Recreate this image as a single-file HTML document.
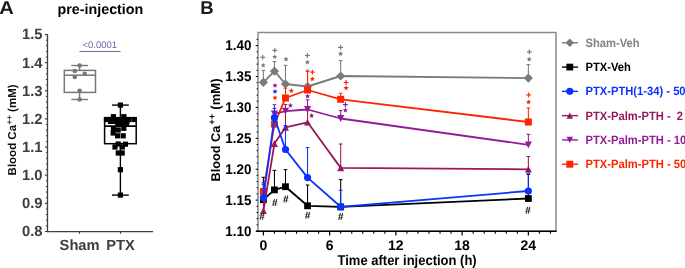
<!DOCTYPE html>
<html><head><meta charset="utf-8"><style>
html,body{margin:0;padding:0;background:#fff;}
body{width:685px;height:268px;overflow:hidden;}
svg{display:block;font-family:'Liberation Sans', sans-serif;will-change:transform;text-rendering:geometricPrecision;}
</style></head><body>
<svg width="685" height="268" viewBox="0 0 685 268">
<text transform="translate(-0.7,14.2) scale(1.09,1)" font-size="18.5" font-weight="bold" fill="#1a1a1a">A</text>
<text x="100.40" y="14.10" font-size="14.3" font-weight="bold" fill="#000" text-anchor="middle" >pre-injection</text>
<line x1="47.50" y1="34.00" x2="47.50" y2="232.20" stroke="#403e4a" stroke-width="1.3"/>
<line x1="44.90" y1="34.50" x2="47.50" y2="34.50" stroke="#403e4a" stroke-width="1.2"/>
<line x1="45.90" y1="40.13" x2="47.50" y2="40.13" stroke="#403e4a" stroke-width="1.0"/>
<line x1="45.90" y1="45.76" x2="47.50" y2="45.76" stroke="#403e4a" stroke-width="1.0"/>
<line x1="45.90" y1="51.38" x2="47.50" y2="51.38" stroke="#403e4a" stroke-width="1.0"/>
<line x1="45.90" y1="57.01" x2="47.50" y2="57.01" stroke="#403e4a" stroke-width="1.0"/>
<line x1="44.90" y1="62.64" x2="47.50" y2="62.64" stroke="#403e4a" stroke-width="1.2"/>
<line x1="45.90" y1="68.27" x2="47.50" y2="68.27" stroke="#403e4a" stroke-width="1.0"/>
<line x1="45.90" y1="73.90" x2="47.50" y2="73.90" stroke="#403e4a" stroke-width="1.0"/>
<line x1="45.90" y1="79.52" x2="47.50" y2="79.52" stroke="#403e4a" stroke-width="1.0"/>
<line x1="45.90" y1="85.15" x2="47.50" y2="85.15" stroke="#403e4a" stroke-width="1.0"/>
<line x1="44.90" y1="90.78" x2="47.50" y2="90.78" stroke="#403e4a" stroke-width="1.2"/>
<line x1="45.90" y1="96.41" x2="47.50" y2="96.41" stroke="#403e4a" stroke-width="1.0"/>
<line x1="45.90" y1="102.04" x2="47.50" y2="102.04" stroke="#403e4a" stroke-width="1.0"/>
<line x1="45.90" y1="107.66" x2="47.50" y2="107.66" stroke="#403e4a" stroke-width="1.0"/>
<line x1="45.90" y1="113.29" x2="47.50" y2="113.29" stroke="#403e4a" stroke-width="1.0"/>
<line x1="44.90" y1="118.92" x2="47.50" y2="118.92" stroke="#403e4a" stroke-width="1.2"/>
<line x1="45.90" y1="124.55" x2="47.50" y2="124.55" stroke="#403e4a" stroke-width="1.0"/>
<line x1="45.90" y1="130.18" x2="47.50" y2="130.18" stroke="#403e4a" stroke-width="1.0"/>
<line x1="45.90" y1="135.80" x2="47.50" y2="135.80" stroke="#403e4a" stroke-width="1.0"/>
<line x1="45.90" y1="141.43" x2="47.50" y2="141.43" stroke="#403e4a" stroke-width="1.0"/>
<line x1="44.90" y1="147.06" x2="47.50" y2="147.06" stroke="#403e4a" stroke-width="1.2"/>
<line x1="45.90" y1="152.69" x2="47.50" y2="152.69" stroke="#403e4a" stroke-width="1.0"/>
<line x1="45.90" y1="158.32" x2="47.50" y2="158.32" stroke="#403e4a" stroke-width="1.0"/>
<line x1="45.90" y1="163.94" x2="47.50" y2="163.94" stroke="#403e4a" stroke-width="1.0"/>
<line x1="45.90" y1="169.57" x2="47.50" y2="169.57" stroke="#403e4a" stroke-width="1.0"/>
<line x1="44.90" y1="175.20" x2="47.50" y2="175.20" stroke="#403e4a" stroke-width="1.2"/>
<line x1="45.90" y1="180.83" x2="47.50" y2="180.83" stroke="#403e4a" stroke-width="1.0"/>
<line x1="45.90" y1="186.46" x2="47.50" y2="186.46" stroke="#403e4a" stroke-width="1.0"/>
<line x1="45.90" y1="192.08" x2="47.50" y2="192.08" stroke="#403e4a" stroke-width="1.0"/>
<line x1="45.90" y1="197.71" x2="47.50" y2="197.71" stroke="#403e4a" stroke-width="1.0"/>
<line x1="44.90" y1="203.34" x2="47.50" y2="203.34" stroke="#403e4a" stroke-width="1.2"/>
<line x1="45.90" y1="208.97" x2="47.50" y2="208.97" stroke="#403e4a" stroke-width="1.0"/>
<line x1="45.90" y1="214.60" x2="47.50" y2="214.60" stroke="#403e4a" stroke-width="1.0"/>
<line x1="45.90" y1="220.22" x2="47.50" y2="220.22" stroke="#403e4a" stroke-width="1.0"/>
<line x1="45.90" y1="225.85" x2="47.50" y2="225.85" stroke="#403e4a" stroke-width="1.0"/>
<line x1="44.90" y1="231.48" x2="47.50" y2="231.48" stroke="#403e4a" stroke-width="1.2"/>
<text x="42.60" y="39.40" font-size="14.8" font-weight="bold" fill="#3c3c3c" text-anchor="end" >1.5</text>
<text x="42.60" y="67.54" font-size="14.8" font-weight="bold" fill="#3c3c3c" text-anchor="end" >1.4</text>
<text x="42.60" y="95.68" font-size="14.8" font-weight="bold" fill="#3c3c3c" text-anchor="end" >1.3</text>
<text x="42.60" y="123.82" font-size="14.8" font-weight="bold" fill="#3c3c3c" text-anchor="end" >1.2</text>
<text x="42.60" y="151.96" font-size="14.8" font-weight="bold" fill="#3c3c3c" text-anchor="end" >1.1</text>
<text x="42.60" y="180.10" font-size="14.8" font-weight="bold" fill="#3c3c3c" text-anchor="end" >1.0</text>
<text x="42.60" y="208.24" font-size="14.8" font-weight="bold" fill="#3c3c3c" text-anchor="end" >0.9</text>
<text x="42.60" y="236.38" font-size="14.8" font-weight="bold" fill="#3c3c3c" text-anchor="end" >0.8</text>
<line x1="47.50" y1="231.60" x2="153.00" y2="231.60" stroke="#403e4a" stroke-width="1.4"/>
<line x1="79.50" y1="231.60" x2="79.50" y2="233.80" stroke="#403e4a" stroke-width="1.2"/>
<line x1="120.50" y1="231.60" x2="120.50" y2="233.80" stroke="#403e4a" stroke-width="1.2"/>
<text x="79.60" y="249.50" font-size="14.7" font-weight="bold" fill="#3c3c3c" text-anchor="middle" >Sham</text>
<text x="120.60" y="249.50" font-size="14.7" font-weight="bold" fill="#3c3c3c" text-anchor="middle" >PTX</text>
<text transform="translate(16.2,129.9) rotate(-90)" font-size="11.5" font-weight="bold" fill="#111" text-anchor="middle">Blood Ca<tspan dx="0.5" dy="-4.2" font-size="8">++</tspan><tspan dy="4.2"> (mM)</tspan></text>
<text x="99.80" y="48.10" font-size="9.5" font-weight="normal" fill="#6b6ba8" text-anchor="middle" >&lt;0.0001</text>
<line x1="79.40" y1="51.50" x2="120.60" y2="51.50" stroke="#6b6ba8" stroke-width="1.1"/>
<line x1="79.60" y1="65.50" x2="79.60" y2="70.40" stroke="#777777" stroke-width="1.4"/>
<line x1="79.60" y1="92.40" x2="79.60" y2="99.50" stroke="#777777" stroke-width="1.4"/>
<line x1="71.30" y1="65.50" x2="88.00" y2="65.50" stroke="#777777" stroke-width="1.4"/>
<line x1="71.30" y1="99.50" x2="88.00" y2="99.50" stroke="#777777" stroke-width="1.4"/>
<rect x="64.3" y="70.4" width="31.2" height="22.0" fill="none" stroke="#777777" stroke-width="1.5"/>
<line x1="64.30" y1="75.20" x2="95.50" y2="75.20" stroke="#777777" stroke-width="1.5"/>
<circle cx="79.60" cy="65.50" r="2.3" fill="#777777"/>
<circle cx="74.80" cy="71.00" r="2.3" fill="#777777"/>
<circle cx="84.70" cy="73.70" r="2.3" fill="#777777"/>
<circle cx="74.80" cy="77.00" r="2.3" fill="#777777"/>
<circle cx="79.60" cy="90.80" r="2.3" fill="#777777"/>
<circle cx="79.60" cy="99.50" r="2.3" fill="#777777"/>
<line x1="120.40" y1="105.10" x2="120.40" y2="117.80" stroke="#000000" stroke-width="1.4"/>
<line x1="120.40" y1="143.70" x2="120.40" y2="195.10" stroke="#000000" stroke-width="1.4"/>
<line x1="112.00" y1="105.10" x2="128.80" y2="105.10" stroke="#000000" stroke-width="1.4"/>
<line x1="112.00" y1="195.10" x2="128.80" y2="195.10" stroke="#000000" stroke-width="1.4"/>
<rect x="104.6" y="117.8" width="31.6" height="25.9" fill="none" stroke="#000000" stroke-width="1.5"/>
<line x1="104.60" y1="126.10" x2="136.20" y2="126.10" stroke="#000000" stroke-width="1.6"/>
<rect x="117.80" y="102.50" width="5.2" height="5.2" fill="#000000"/>
<rect x="110.80" y="114.10" width="5.2" height="5.2" fill="#000000"/>
<rect x="121.30" y="114.10" width="5.2" height="5.2" fill="#000000"/>
<rect x="103.90" y="116.90" width="5.2" height="5.2" fill="#000000"/>
<rect x="108.40" y="116.90" width="5.2" height="5.2" fill="#000000"/>
<rect x="112.90" y="116.90" width="5.2" height="5.2" fill="#000000"/>
<rect x="117.40" y="116.90" width="5.2" height="5.2" fill="#000000"/>
<rect x="121.90" y="116.90" width="5.2" height="5.2" fill="#000000"/>
<rect x="126.40" y="116.90" width="5.2" height="5.2" fill="#000000"/>
<rect x="131.70" y="116.90" width="5.2" height="5.2" fill="#000000"/>
<rect x="107.90" y="118.80" width="5.2" height="5.2" fill="#000000"/>
<rect x="112.90" y="118.80" width="5.2" height="5.2" fill="#000000"/>
<rect x="117.40" y="118.80" width="5.2" height="5.2" fill="#000000"/>
<rect x="121.90" y="118.80" width="5.2" height="5.2" fill="#000000"/>
<rect x="124.40" y="118.80" width="5.2" height="5.2" fill="#000000"/>
<rect x="115.20" y="121.00" width="5.2" height="5.2" fill="#000000"/>
<rect x="119.70" y="121.00" width="5.2" height="5.2" fill="#000000"/>
<rect x="123.90" y="121.00" width="5.2" height="5.2" fill="#000000"/>
<rect x="110.90" y="126.00" width="5.2" height="5.2" fill="#000000"/>
<rect x="115.60" y="127.40" width="5.2" height="5.2" fill="#000000"/>
<rect x="121.20" y="125.70" width="5.2" height="5.2" fill="#000000"/>
<rect x="110.60" y="130.40" width="5.2" height="5.2" fill="#000000"/>
<rect x="115.00" y="133.20" width="5.2" height="5.2" fill="#000000"/>
<rect x="120.60" y="133.20" width="5.2" height="5.2" fill="#000000"/>
<rect x="115.60" y="141.40" width="5.2" height="5.2" fill="#000000"/>
<rect x="122.80" y="141.60" width="5.2" height="5.2" fill="#000000"/>
<rect x="112.40" y="144.40" width="5.2" height="5.2" fill="#000000"/>
<rect x="119.70" y="144.40" width="5.2" height="5.2" fill="#000000"/>
<rect x="115.70" y="150.40" width="5.2" height="5.2" fill="#000000"/>
<rect x="119.60" y="150.40" width="5.2" height="5.2" fill="#000000"/>
<rect x="117.80" y="167.10" width="5.2" height="5.2" fill="#000000"/>
<rect x="117.80" y="192.50" width="5.2" height="5.2" fill="#000000"/>
<text x="200.20" y="14.30" font-size="18.5" font-weight="bold" fill="#1a1a1a" text-anchor="start" >B</text>
<rect x="258.0" y="32.5" width="298.0" height="198.8" fill="none" stroke="#8a8a8a" stroke-width="1.5"/>
<line x1="256.20" y1="231.30" x2="556.50" y2="231.30" stroke="#000000" stroke-width="1.5"/>
<line x1="255.70" y1="231.00" x2="258.00" y2="231.00" stroke="#000000" stroke-width="1.05"/>
<line x1="256.60" y1="224.82" x2="258.00" y2="224.82" stroke="#000000" stroke-width="1.0"/>
<line x1="256.60" y1="218.64" x2="258.00" y2="218.64" stroke="#000000" stroke-width="1.0"/>
<line x1="256.60" y1="212.46" x2="258.00" y2="212.46" stroke="#000000" stroke-width="1.0"/>
<line x1="256.60" y1="206.28" x2="258.00" y2="206.28" stroke="#000000" stroke-width="1.0"/>
<line x1="255.70" y1="200.10" x2="258.00" y2="200.10" stroke="#000000" stroke-width="1.05"/>
<line x1="256.60" y1="193.92" x2="258.00" y2="193.92" stroke="#000000" stroke-width="1.0"/>
<line x1="256.60" y1="187.74" x2="258.00" y2="187.74" stroke="#000000" stroke-width="1.0"/>
<line x1="256.60" y1="181.56" x2="258.00" y2="181.56" stroke="#000000" stroke-width="1.0"/>
<line x1="256.60" y1="175.38" x2="258.00" y2="175.38" stroke="#000000" stroke-width="1.0"/>
<line x1="255.70" y1="169.20" x2="258.00" y2="169.20" stroke="#000000" stroke-width="1.05"/>
<line x1="256.60" y1="163.02" x2="258.00" y2="163.02" stroke="#000000" stroke-width="1.0"/>
<line x1="256.60" y1="156.84" x2="258.00" y2="156.84" stroke="#000000" stroke-width="1.0"/>
<line x1="256.60" y1="150.66" x2="258.00" y2="150.66" stroke="#000000" stroke-width="1.0"/>
<line x1="256.60" y1="144.48" x2="258.00" y2="144.48" stroke="#000000" stroke-width="1.0"/>
<line x1="255.70" y1="138.30" x2="258.00" y2="138.30" stroke="#000000" stroke-width="1.05"/>
<line x1="256.60" y1="132.12" x2="258.00" y2="132.12" stroke="#000000" stroke-width="1.0"/>
<line x1="256.60" y1="125.94" x2="258.00" y2="125.94" stroke="#000000" stroke-width="1.0"/>
<line x1="256.60" y1="119.76" x2="258.00" y2="119.76" stroke="#000000" stroke-width="1.0"/>
<line x1="256.60" y1="113.58" x2="258.00" y2="113.58" stroke="#000000" stroke-width="1.0"/>
<line x1="255.70" y1="107.40" x2="258.00" y2="107.40" stroke="#000000" stroke-width="1.05"/>
<line x1="256.60" y1="101.22" x2="258.00" y2="101.22" stroke="#000000" stroke-width="1.0"/>
<line x1="256.60" y1="95.04" x2="258.00" y2="95.04" stroke="#000000" stroke-width="1.0"/>
<line x1="256.60" y1="88.86" x2="258.00" y2="88.86" stroke="#000000" stroke-width="1.0"/>
<line x1="256.60" y1="82.68" x2="258.00" y2="82.68" stroke="#000000" stroke-width="1.0"/>
<line x1="255.70" y1="76.50" x2="258.00" y2="76.50" stroke="#000000" stroke-width="1.05"/>
<line x1="256.60" y1="70.32" x2="258.00" y2="70.32" stroke="#000000" stroke-width="1.0"/>
<line x1="256.60" y1="64.14" x2="258.00" y2="64.14" stroke="#000000" stroke-width="1.0"/>
<line x1="256.60" y1="57.96" x2="258.00" y2="57.96" stroke="#000000" stroke-width="1.0"/>
<line x1="256.60" y1="51.78" x2="258.00" y2="51.78" stroke="#000000" stroke-width="1.0"/>
<line x1="255.70" y1="45.60" x2="258.00" y2="45.60" stroke="#000000" stroke-width="1.05"/>
<line x1="256.60" y1="39.42" x2="258.00" y2="39.42" stroke="#000000" stroke-width="1.0"/>
<text transform="translate(251.4,235.75) scale(1,1.05)" font-size="13.4" font-weight="bold" fill="#000" text-anchor="end">1.10</text>
<text transform="translate(251.4,204.85) scale(1,1.05)" font-size="13.4" font-weight="bold" fill="#000" text-anchor="end">1.15</text>
<text transform="translate(251.4,173.95) scale(1,1.05)" font-size="13.4" font-weight="bold" fill="#000" text-anchor="end">1.20</text>
<text transform="translate(251.4,143.05) scale(1,1.05)" font-size="13.4" font-weight="bold" fill="#000" text-anchor="end">1.25</text>
<text transform="translate(251.4,112.15) scale(1,1.05)" font-size="13.4" font-weight="bold" fill="#000" text-anchor="end">1.30</text>
<text transform="translate(251.4,81.25) scale(1,1.05)" font-size="13.4" font-weight="bold" fill="#000" text-anchor="end">1.35</text>
<text transform="translate(251.4,50.35) scale(1,1.05)" font-size="13.4" font-weight="bold" fill="#000" text-anchor="end">1.40</text>
<line x1="263.40" y1="231.30" x2="263.40" y2="235.60" stroke="#000000" stroke-width="1.2"/>
<line x1="274.44" y1="231.30" x2="274.44" y2="233.80" stroke="#000000" stroke-width="1.1"/>
<line x1="285.48" y1="231.30" x2="285.48" y2="233.80" stroke="#000000" stroke-width="1.1"/>
<line x1="296.52" y1="231.30" x2="296.52" y2="233.80" stroke="#000000" stroke-width="1.1"/>
<line x1="307.56" y1="231.30" x2="307.56" y2="233.80" stroke="#000000" stroke-width="1.1"/>
<line x1="318.60" y1="231.30" x2="318.60" y2="233.80" stroke="#000000" stroke-width="1.1"/>
<line x1="329.64" y1="231.30" x2="329.64" y2="235.60" stroke="#000000" stroke-width="1.2"/>
<line x1="340.68" y1="231.30" x2="340.68" y2="233.80" stroke="#000000" stroke-width="1.1"/>
<line x1="351.72" y1="231.30" x2="351.72" y2="233.80" stroke="#000000" stroke-width="1.1"/>
<line x1="362.76" y1="231.30" x2="362.76" y2="233.80" stroke="#000000" stroke-width="1.1"/>
<line x1="373.80" y1="231.30" x2="373.80" y2="233.80" stroke="#000000" stroke-width="1.1"/>
<line x1="384.84" y1="231.30" x2="384.84" y2="233.80" stroke="#000000" stroke-width="1.1"/>
<line x1="395.88" y1="231.30" x2="395.88" y2="235.60" stroke="#000000" stroke-width="1.2"/>
<line x1="406.92" y1="231.30" x2="406.92" y2="233.80" stroke="#000000" stroke-width="1.1"/>
<line x1="417.96" y1="231.30" x2="417.96" y2="233.80" stroke="#000000" stroke-width="1.1"/>
<line x1="429.00" y1="231.30" x2="429.00" y2="233.80" stroke="#000000" stroke-width="1.1"/>
<line x1="440.04" y1="231.30" x2="440.04" y2="233.80" stroke="#000000" stroke-width="1.1"/>
<line x1="451.08" y1="231.30" x2="451.08" y2="233.80" stroke="#000000" stroke-width="1.1"/>
<line x1="462.12" y1="231.30" x2="462.12" y2="235.60" stroke="#000000" stroke-width="1.2"/>
<line x1="473.16" y1="231.30" x2="473.16" y2="233.80" stroke="#000000" stroke-width="1.1"/>
<line x1="484.20" y1="231.30" x2="484.20" y2="233.80" stroke="#000000" stroke-width="1.1"/>
<line x1="495.24" y1="231.30" x2="495.24" y2="233.80" stroke="#000000" stroke-width="1.1"/>
<line x1="506.28" y1="231.30" x2="506.28" y2="233.80" stroke="#000000" stroke-width="1.1"/>
<line x1="517.32" y1="231.30" x2="517.32" y2="233.80" stroke="#000000" stroke-width="1.1"/>
<line x1="528.36" y1="231.30" x2="528.36" y2="235.60" stroke="#000000" stroke-width="1.2"/>
<line x1="539.40" y1="231.30" x2="539.40" y2="233.80" stroke="#000000" stroke-width="1.1"/>
<line x1="550.44" y1="231.30" x2="550.44" y2="233.80" stroke="#000000" stroke-width="1.1"/>
<text x="263.40" y="249.80" font-size="14" font-weight="bold" fill="#000000" text-anchor="middle" >0</text>
<text x="329.64" y="249.80" font-size="14" font-weight="bold" fill="#000000" text-anchor="middle" >6</text>
<text x="395.88" y="249.80" font-size="14" font-weight="bold" fill="#000000" text-anchor="middle" >12</text>
<text x="462.12" y="249.80" font-size="14" font-weight="bold" fill="#000000" text-anchor="middle" >18</text>
<text x="528.36" y="249.80" font-size="14" font-weight="bold" fill="#000000" text-anchor="middle" >24</text>
<text transform="translate(407.1,264.8) scale(1,1.09)" font-size="13" font-weight="bold" fill="#000" text-anchor="middle">Time after injection (h)</text>
<text transform="translate(219.6,181.5) rotate(-90)" font-size="12.7" font-weight="bold" fill="#000" text-anchor="start">Blood Ca<tspan dx="1.2" dy="-4.4" font-size="9.2">++</tspan><tspan dy="4.4" dx="0.6" font-size="13.1"> (mM)</tspan></text>
<line x1="263.40" y1="82.30" x2="263.40" y2="70.40" stroke="#7a7a7a" stroke-width="1.05"/>
<line x1="261.55" y1="70.40" x2="265.25" y2="70.40" stroke="#7a7a7a" stroke-width="1.05"/>
<line x1="274.44" y1="71.20" x2="274.44" y2="61.50" stroke="#7a7a7a" stroke-width="1.05"/>
<line x1="272.59" y1="61.50" x2="276.29" y2="61.50" stroke="#7a7a7a" stroke-width="1.05"/>
<line x1="285.48" y1="84.00" x2="285.48" y2="65.40" stroke="#7a7a7a" stroke-width="1.05"/>
<line x1="283.63" y1="65.40" x2="287.33" y2="65.40" stroke="#7a7a7a" stroke-width="1.05"/>
<line x1="307.56" y1="86.50" x2="307.56" y2="70.20" stroke="#7a7a7a" stroke-width="1.05"/>
<line x1="305.71" y1="70.20" x2="309.41" y2="70.20" stroke="#7a7a7a" stroke-width="1.05"/>
<line x1="340.68" y1="76.00" x2="340.68" y2="60.60" stroke="#7a7a7a" stroke-width="1.05"/>
<line x1="338.83" y1="60.60" x2="342.53" y2="60.60" stroke="#7a7a7a" stroke-width="1.05"/>
<line x1="528.36" y1="78.10" x2="528.36" y2="64.60" stroke="#7a7a7a" stroke-width="1.05"/>
<line x1="526.51" y1="64.60" x2="530.21" y2="64.60" stroke="#7a7a7a" stroke-width="1.05"/>
<polyline points="263.40,82.30 274.44,71.20 285.48,84.00 307.56,86.50 340.68,76.00 528.36,78.10" fill="none" stroke="#7a7a7a" stroke-width="1.9" stroke-linejoin="round"/>
<polygon points="263.40,77.70 268.00,82.30 263.40,86.90 258.80,82.30" fill="#7a7a7a"/>
<polygon points="274.44,66.60 279.04,71.20 274.44,75.80 269.84,71.20" fill="#7a7a7a"/>
<polygon points="285.48,79.40 290.08,84.00 285.48,88.60 280.88,84.00" fill="#7a7a7a"/>
<polygon points="307.56,81.90 312.16,86.50 307.56,91.10 302.96,86.50" fill="#7a7a7a"/>
<polygon points="340.68,71.40 345.28,76.00 340.68,80.60 336.08,76.00" fill="#7a7a7a"/>
<polygon points="528.36,73.50 532.96,78.10 528.36,82.70 523.76,78.10" fill="#7a7a7a"/>
<line x1="263.40" y1="199.70" x2="263.40" y2="177.30" stroke="#000000" stroke-width="1.05"/>
<line x1="261.55" y1="177.30" x2="265.25" y2="177.30" stroke="#000000" stroke-width="1.05"/>
<line x1="274.44" y1="189.90" x2="274.44" y2="170.40" stroke="#000000" stroke-width="1.05"/>
<line x1="272.59" y1="170.40" x2="276.29" y2="170.40" stroke="#000000" stroke-width="1.05"/>
<line x1="285.48" y1="186.70" x2="285.48" y2="169.60" stroke="#000000" stroke-width="1.05"/>
<line x1="283.63" y1="169.60" x2="287.33" y2="169.60" stroke="#000000" stroke-width="1.05"/>
<line x1="307.56" y1="205.80" x2="307.56" y2="185.00" stroke="#000000" stroke-width="1.05"/>
<line x1="305.71" y1="185.00" x2="309.41" y2="185.00" stroke="#000000" stroke-width="1.05"/>
<line x1="340.68" y1="206.90" x2="340.68" y2="179.60" stroke="#000000" stroke-width="1.05"/>
<line x1="338.83" y1="179.60" x2="342.53" y2="179.60" stroke="#000000" stroke-width="1.05"/>
<line x1="528.36" y1="198.50" x2="528.36" y2="174.40" stroke="#000000" stroke-width="1.05"/>
<line x1="526.51" y1="174.40" x2="530.21" y2="174.40" stroke="#000000" stroke-width="1.05"/>
<polyline points="263.40,199.70 274.44,189.90 285.48,186.70 307.56,205.80 340.68,206.90 528.36,198.50" fill="none" stroke="#000000" stroke-width="1.8" stroke-linejoin="round"/>
<rect x="260.00" y="196.30" width="6.8" height="6.8" fill="#000000"/>
<rect x="271.04" y="186.50" width="6.8" height="6.8" fill="#000000"/>
<rect x="282.08" y="183.30" width="6.8" height="6.8" fill="#000000"/>
<rect x="304.16" y="202.40" width="6.8" height="6.8" fill="#000000"/>
<rect x="337.28" y="203.50" width="6.8" height="6.8" fill="#000000"/>
<rect x="524.96" y="195.10" width="6.8" height="6.8" fill="#000000"/>
<line x1="285.48" y1="98.00" x2="285.48" y2="88.20" stroke="#ff2400" stroke-width="1.05"/>
<line x1="283.63" y1="88.20" x2="287.33" y2="88.20" stroke="#ff2400" stroke-width="1.05"/>
<line x1="307.56" y1="90.00" x2="307.56" y2="71.40" stroke="#ff2400" stroke-width="1.05"/>
<line x1="305.71" y1="71.40" x2="309.41" y2="71.40" stroke="#ff2400" stroke-width="1.05"/>
<line x1="340.68" y1="99.30" x2="340.68" y2="93.30" stroke="#ff2400" stroke-width="1.05"/>
<line x1="338.83" y1="93.30" x2="342.53" y2="93.30" stroke="#ff2400" stroke-width="1.05"/>
<line x1="528.36" y1="122.00" x2="528.36" y2="108.00" stroke="#ff2400" stroke-width="1.05"/>
<line x1="526.51" y1="108.00" x2="530.21" y2="108.00" stroke="#ff2400" stroke-width="1.05"/>
<polyline points="263.40,191.40 274.44,124.20 285.48,98.00 307.56,90.00 340.68,99.30 528.36,122.00" fill="none" stroke="#ff2400" stroke-width="1.8" stroke-linejoin="round"/>
<rect x="259.90" y="187.90" width="7.0" height="7.0" fill="#ff2400"/>
<rect x="270.94" y="120.70" width="7.0" height="7.0" fill="#ff2400"/>
<rect x="281.98" y="94.50" width="7.0" height="7.0" fill="#ff2400"/>
<rect x="304.06" y="86.50" width="7.0" height="7.0" fill="#ff2400"/>
<rect x="337.18" y="95.80" width="7.0" height="7.0" fill="#ff2400"/>
<rect x="524.86" y="118.50" width="7.0" height="7.0" fill="#ff2400"/>
<line x1="274.44" y1="113.90" x2="274.44" y2="104.70" stroke="#931b9a" stroke-width="1.05"/>
<line x1="272.59" y1="104.70" x2="276.29" y2="104.70" stroke="#931b9a" stroke-width="1.05"/>
<line x1="307.56" y1="109.50" x2="307.56" y2="99.80" stroke="#931b9a" stroke-width="1.05"/>
<line x1="305.71" y1="99.80" x2="309.41" y2="99.80" stroke="#931b9a" stroke-width="1.05"/>
<line x1="340.68" y1="118.50" x2="340.68" y2="110.60" stroke="#931b9a" stroke-width="1.05"/>
<line x1="338.83" y1="110.60" x2="342.53" y2="110.60" stroke="#931b9a" stroke-width="1.05"/>
<line x1="528.36" y1="144.80" x2="528.36" y2="134.30" stroke="#931b9a" stroke-width="1.05"/>
<line x1="526.51" y1="134.30" x2="530.21" y2="134.30" stroke="#931b9a" stroke-width="1.05"/>
<polyline points="274.44,113.90 285.48,111.20 307.56,109.50 340.68,118.50 528.36,144.80" fill="none" stroke="#931b9a" stroke-width="1.8" stroke-linejoin="round"/>
<polygon points="270.84,110.50 278.04,110.50 274.44,117.30" fill="#931b9a"/>
<polygon points="281.88,107.80 289.08,107.80 285.48,114.60" fill="#931b9a"/>
<polygon points="303.96,106.10 311.16,106.10 307.56,112.90" fill="#931b9a"/>
<polygon points="337.08,115.10 344.28,115.10 340.68,121.90" fill="#931b9a"/>
<polygon points="524.76,141.40 531.96,141.40 528.36,148.20" fill="#931b9a"/>
<line x1="263.40" y1="210.80" x2="263.40" y2="182.70" stroke="#98185a" stroke-width="1.05"/>
<line x1="261.55" y1="182.70" x2="265.25" y2="182.70" stroke="#98185a" stroke-width="1.05"/>
<line x1="285.48" y1="127.40" x2="285.48" y2="104.60" stroke="#98185a" stroke-width="1.05"/>
<line x1="283.63" y1="104.60" x2="287.33" y2="104.60" stroke="#98185a" stroke-width="1.05"/>
<line x1="307.56" y1="122.30" x2="307.56" y2="109.50" stroke="#98185a" stroke-width="1.05"/>
<line x1="305.71" y1="109.50" x2="309.41" y2="109.50" stroke="#98185a" stroke-width="1.05"/>
<line x1="340.68" y1="167.90" x2="340.68" y2="144.00" stroke="#98185a" stroke-width="1.05"/>
<line x1="338.83" y1="144.00" x2="342.53" y2="144.00" stroke="#98185a" stroke-width="1.05"/>
<line x1="528.36" y1="169.30" x2="528.36" y2="156.50" stroke="#98185a" stroke-width="1.05"/>
<line x1="526.51" y1="156.50" x2="530.21" y2="156.50" stroke="#98185a" stroke-width="1.05"/>
<polyline points="263.40,210.80 274.44,143.60 285.48,127.40 307.56,122.30 340.68,167.90 528.36,169.30" fill="none" stroke="#98185a" stroke-width="1.8" stroke-linejoin="round"/>
<polygon points="263.40,207.50 266.90,214.10 259.90,214.10" fill="#98185a"/>
<polygon points="274.44,140.30 277.94,146.90 270.94,146.90" fill="#98185a"/>
<polygon points="285.48,124.10 288.98,130.70 281.98,130.70" fill="#98185a"/>
<polygon points="307.56,119.00 311.06,125.60 304.06,125.60" fill="#98185a"/>
<polygon points="340.68,164.60 344.18,171.20 337.18,171.20" fill="#98185a"/>
<polygon points="528.36,166.00 531.86,172.60 524.86,172.60" fill="#98185a"/>
<line x1="263.40" y1="197.60" x2="263.40" y2="184.30" stroke="#0b31ff" stroke-width="1.05"/>
<line x1="261.55" y1="184.30" x2="265.25" y2="184.30" stroke="#0b31ff" stroke-width="1.05"/>
<line x1="274.44" y1="117.70" x2="274.44" y2="108.40" stroke="#0b31ff" stroke-width="1.05"/>
<line x1="272.59" y1="108.40" x2="276.29" y2="108.40" stroke="#0b31ff" stroke-width="1.05"/>
<line x1="285.48" y1="149.50" x2="285.48" y2="125.60" stroke="#0b31ff" stroke-width="1.05"/>
<line x1="283.63" y1="125.60" x2="287.33" y2="125.60" stroke="#0b31ff" stroke-width="1.05"/>
<line x1="307.56" y1="177.60" x2="307.56" y2="147.60" stroke="#0b31ff" stroke-width="1.05"/>
<line x1="305.71" y1="147.60" x2="309.41" y2="147.60" stroke="#0b31ff" stroke-width="1.05"/>
<line x1="340.68" y1="206.80" x2="340.68" y2="190.20" stroke="#0b31ff" stroke-width="1.05"/>
<line x1="338.83" y1="190.20" x2="342.53" y2="190.20" stroke="#0b31ff" stroke-width="1.05"/>
<line x1="528.36" y1="191.00" x2="528.36" y2="173.10" stroke="#0b31ff" stroke-width="1.05"/>
<line x1="526.51" y1="173.10" x2="530.21" y2="173.10" stroke="#0b31ff" stroke-width="1.05"/>
<polyline points="263.40,197.60 274.44,117.70 285.48,149.50 307.56,177.60 340.68,206.80 528.36,191.00" fill="none" stroke="#0b31ff" stroke-width="1.8" stroke-linejoin="round"/>
<circle cx="263.40" cy="197.60" r="3.6" fill="#0b31ff"/>
<circle cx="274.44" cy="117.70" r="3.6" fill="#0b31ff"/>
<circle cx="285.48" cy="149.50" r="3.6" fill="#0b31ff"/>
<circle cx="307.56" cy="177.60" r="3.6" fill="#0b31ff"/>
<circle cx="340.68" cy="206.80" r="3.6" fill="#0b31ff"/>
<circle cx="528.36" cy="191.00" r="3.6" fill="#0b31ff"/>
<line x1="260.25" y1="57.30" x2="265.15" y2="57.30" stroke="#777" stroke-width="1.15"/>
<line x1="262.70" y1="54.85" x2="262.70" y2="59.75" stroke="#777" stroke-width="1.15"/>
<polygon points="263.20,62.70 263.91,64.42 265.77,64.57 264.36,65.78 264.79,67.58 263.20,66.62 261.61,67.58 262.04,65.78 260.63,64.57 262.49,64.42" fill="#777"/>
<line x1="272.35" y1="50.40" x2="277.25" y2="50.40" stroke="#777" stroke-width="1.15"/>
<line x1="274.80" y1="47.95" x2="274.80" y2="52.85" stroke="#777" stroke-width="1.15"/>
<polygon points="274.80,54.20 275.51,55.92 277.37,56.07 275.96,57.28 276.39,59.08 274.80,58.12 273.21,59.08 273.64,57.28 272.23,56.07 274.09,55.92" fill="#777"/>
<polygon points="286.00,56.50 286.71,58.22 288.57,58.37 287.16,59.58 287.59,61.38 286.00,60.42 284.41,61.38 284.84,59.58 283.43,58.37 285.29,58.22" fill="#777"/>
<line x1="304.95" y1="55.50" x2="309.85" y2="55.50" stroke="#777" stroke-width="1.15"/>
<line x1="307.40" y1="53.05" x2="307.40" y2="57.95" stroke="#777" stroke-width="1.15"/>
<polygon points="307.40,59.50 308.11,61.22 309.97,61.37 308.56,62.58 308.99,64.38 307.40,63.42 305.81,64.38 306.24,62.58 304.83,61.37 306.69,61.22" fill="#777"/>
<line x1="338.15" y1="47.40" x2="343.05" y2="47.40" stroke="#777" stroke-width="1.15"/>
<line x1="340.60" y1="44.95" x2="340.60" y2="49.85" stroke="#777" stroke-width="1.15"/>
<polygon points="340.60,51.10 341.31,52.82 343.17,52.97 341.76,54.18 342.19,55.98 340.60,55.02 339.01,55.98 339.44,54.18 338.03,52.97 339.89,52.82" fill="#777"/>
<line x1="526.95" y1="51.90" x2="531.85" y2="51.90" stroke="#777" stroke-width="1.15"/>
<line x1="529.40" y1="49.45" x2="529.40" y2="54.35" stroke="#777" stroke-width="1.15"/>
<polygon points="529.20,56.60 529.91,58.32 531.77,58.47 530.36,59.68 530.79,61.48 529.20,60.52 527.61,61.48 528.04,59.68 526.63,58.47 528.49,58.32" fill="#777"/>
<polygon points="275.00,82.90 275.71,84.62 277.57,84.77 276.16,85.98 276.59,87.78 275.00,86.81 273.41,87.78 273.84,85.98 272.43,84.77 274.29,84.62" fill="#931b9a"/>
<polygon points="275.00,88.90 275.71,90.62 277.57,90.77 276.16,91.98 276.59,93.78 275.00,92.81 273.41,93.78 273.84,91.98 272.43,90.77 274.29,90.62" fill="#0b31ff"/>
<polygon points="275.00,95.00 275.71,96.72 277.57,96.87 276.16,98.08 276.59,99.88 275.00,98.92 273.41,99.88 273.84,98.08 272.43,96.87 274.29,96.72" fill="#ff2400"/>
<polygon points="291.30,88.10 292.01,89.82 293.87,89.97 292.46,91.18 292.89,92.98 291.30,92.02 289.71,92.98 290.14,91.18 288.73,89.97 290.59,89.82" fill="#ff2400"/>
<polygon points="290.40,102.80 291.11,104.52 292.97,104.67 291.56,105.88 291.99,107.68 290.40,106.72 288.81,107.68 289.24,105.88 287.83,104.67 289.69,104.52" fill="#931b9a"/>
<line x1="309.95" y1="72.10" x2="314.85" y2="72.10" stroke="#ff2400" stroke-width="1.15"/>
<line x1="312.40" y1="69.65" x2="312.40" y2="74.55" stroke="#ff2400" stroke-width="1.15"/>
<polygon points="312.40,76.40 313.11,78.12 314.97,78.27 313.56,79.48 313.99,81.28 312.40,80.31 310.81,81.28 311.24,79.48 309.83,78.27 311.69,78.12" fill="#ff2400"/>
<polygon points="307.60,93.60 308.31,95.32 310.17,95.47 308.76,96.68 309.19,98.48 307.60,97.52 306.01,98.48 306.44,96.68 305.03,95.47 306.89,95.32" fill="#931b9a"/>
<polygon points="311.60,113.00 312.31,114.72 314.17,114.87 312.76,116.08 313.19,117.88 311.60,116.92 310.01,117.88 310.44,116.08 309.03,114.87 310.89,114.72" fill="#98185a"/>
<line x1="343.65" y1="82.50" x2="348.55" y2="82.50" stroke="#ff2400" stroke-width="1.15"/>
<line x1="346.10" y1="80.05" x2="346.10" y2="84.95" stroke="#ff2400" stroke-width="1.15"/>
<polygon points="346.10,85.40 346.81,87.12 348.67,87.27 347.26,88.48 347.69,90.28 346.10,89.31 344.51,90.28 344.94,88.48 343.53,87.27 345.39,87.12" fill="#ff2400"/>
<line x1="342.95" y1="104.60" x2="347.85" y2="104.60" stroke="#931b9a" stroke-width="1.15"/>
<line x1="345.40" y1="102.15" x2="345.40" y2="107.05" stroke="#931b9a" stroke-width="1.15"/>
<polygon points="345.40,107.50 346.11,109.22 347.97,109.37 346.56,110.58 346.99,112.38 345.40,111.42 343.81,112.38 344.24,110.58 342.83,109.37 344.69,109.22" fill="#931b9a"/>
<line x1="526.15" y1="94.90" x2="531.05" y2="94.90" stroke="#ff2400" stroke-width="1.15"/>
<line x1="528.60" y1="92.45" x2="528.60" y2="97.35" stroke="#ff2400" stroke-width="1.15"/>
<polygon points="528.60,99.40 529.31,101.12 531.17,101.27 529.76,102.48 530.19,104.28 528.60,103.31 527.01,104.28 527.44,102.48 526.03,101.27 527.89,101.12" fill="#ff2400"/>
<line x1="261.70" y1="212.80" x2="260.10" y2="219.60" stroke="#2a2a2a" stroke-width="1.05"/>
<line x1="263.90" y1="212.80" x2="262.30" y2="219.60" stroke="#2a2a2a" stroke-width="1.05"/>
<line x1="259.60" y1="215.20" x2="264.60" y2="215.20" stroke="#2a2a2a" stroke-width="0.55"/>
<line x1="259.60" y1="217.50" x2="264.60" y2="217.50" stroke="#2a2a2a" stroke-width="0.55"/>
<line x1="274.50" y1="199.20" x2="272.90" y2="206.00" stroke="#2a2a2a" stroke-width="1.05"/>
<line x1="276.70" y1="199.20" x2="275.10" y2="206.00" stroke="#2a2a2a" stroke-width="1.05"/>
<line x1="272.40" y1="201.60" x2="277.40" y2="201.60" stroke="#2a2a2a" stroke-width="0.55"/>
<line x1="272.40" y1="203.90" x2="277.40" y2="203.90" stroke="#2a2a2a" stroke-width="0.55"/>
<line x1="285.50" y1="195.60" x2="283.90" y2="202.40" stroke="#2a2a2a" stroke-width="1.05"/>
<line x1="287.70" y1="195.60" x2="286.10" y2="202.40" stroke="#2a2a2a" stroke-width="1.05"/>
<line x1="283.40" y1="198.00" x2="288.40" y2="198.00" stroke="#2a2a2a" stroke-width="0.55"/>
<line x1="283.40" y1="200.30" x2="288.40" y2="200.30" stroke="#2a2a2a" stroke-width="0.55"/>
<line x1="307.30" y1="211.90" x2="305.70" y2="218.70" stroke="#2a2a2a" stroke-width="1.05"/>
<line x1="309.50" y1="211.90" x2="307.90" y2="218.70" stroke="#2a2a2a" stroke-width="1.05"/>
<line x1="305.20" y1="214.30" x2="310.20" y2="214.30" stroke="#2a2a2a" stroke-width="0.55"/>
<line x1="305.20" y1="216.60" x2="310.20" y2="216.60" stroke="#2a2a2a" stroke-width="0.55"/>
<line x1="340.40" y1="213.00" x2="338.80" y2="219.80" stroke="#2a2a2a" stroke-width="1.05"/>
<line x1="342.60" y1="213.00" x2="341.00" y2="219.80" stroke="#2a2a2a" stroke-width="1.05"/>
<line x1="338.30" y1="215.40" x2="343.30" y2="215.40" stroke="#2a2a2a" stroke-width="0.55"/>
<line x1="338.30" y1="217.70" x2="343.30" y2="217.70" stroke="#2a2a2a" stroke-width="0.55"/>
<line x1="527.60" y1="206.80" x2="526.00" y2="213.60" stroke="#2a2a2a" stroke-width="1.05"/>
<line x1="529.80" y1="206.80" x2="528.20" y2="213.60" stroke="#2a2a2a" stroke-width="1.05"/>
<line x1="525.50" y1="209.20" x2="530.50" y2="209.20" stroke="#2a2a2a" stroke-width="0.55"/>
<line x1="525.50" y1="211.50" x2="530.50" y2="211.50" stroke="#2a2a2a" stroke-width="0.55"/>
<line x1="562.00" y1="42.80" x2="578.00" y2="42.80" stroke="#7a7a7a" stroke-width="1.4"/>
<polygon points="569.80,38.50 574.10,42.80 569.80,47.10 565.50,42.80" fill="#7a7a7a"/>
<text transform="translate(585.5,46.80) scale(1,1.08)" font-size="11.2" font-weight="bold" fill="#808080">Sham-Veh</text>
<line x1="562.00" y1="67.08" x2="578.00" y2="67.08" stroke="#000000" stroke-width="1.4"/>
<rect x="566.40" y="63.68" width="6.8" height="6.8" fill="#000000"/>
<text transform="translate(585.5,71.04) scale(1,1.08)" font-size="11.2" font-weight="bold" fill="#000000">PTX-Veh</text>
<line x1="562.00" y1="91.36" x2="578.00" y2="91.36" stroke="#0b31ff" stroke-width="1.4"/>
<circle cx="569.80" cy="91.36" r="3.6" fill="#0b31ff"/>
<text transform="translate(585.5,95.28) scale(1,1.08)" font-size="11.2" font-weight="bold" fill="#0b31ff">PTX-PTH(1-34) - 50</text>
<line x1="562.00" y1="115.64" x2="578.00" y2="115.64" stroke="#98185a" stroke-width="1.4"/>
<polygon points="569.80,112.54 573.10,118.74 566.50,118.74" fill="#98185a"/>
<text transform="translate(585.5,119.52) scale(1,1.08)" font-size="11.2" font-weight="bold" fill="#98185a">PTX-Palm-PTH - &#160;2</text>
<line x1="562.00" y1="139.92" x2="578.00" y2="139.92" stroke="#931b9a" stroke-width="1.4"/>
<polygon points="566.50,136.72 573.10,136.72 569.80,143.12" fill="#931b9a"/>
<text transform="translate(585.5,143.76) scale(1,1.08)" font-size="11.2" font-weight="bold" fill="#931b9a">PTX-Palm-PTH - 10</text>
<line x1="562.00" y1="164.20" x2="578.00" y2="164.20" stroke="#ff2400" stroke-width="1.4"/>
<rect x="566.30" y="160.70" width="7.0" height="7.0" fill="#ff2400"/>
<text transform="translate(585.5,168.00) scale(1,1.08)" font-size="11.2" font-weight="bold" fill="#ff2400">PTX-Palm-PTH - 50</text>
</svg>
</body></html>
